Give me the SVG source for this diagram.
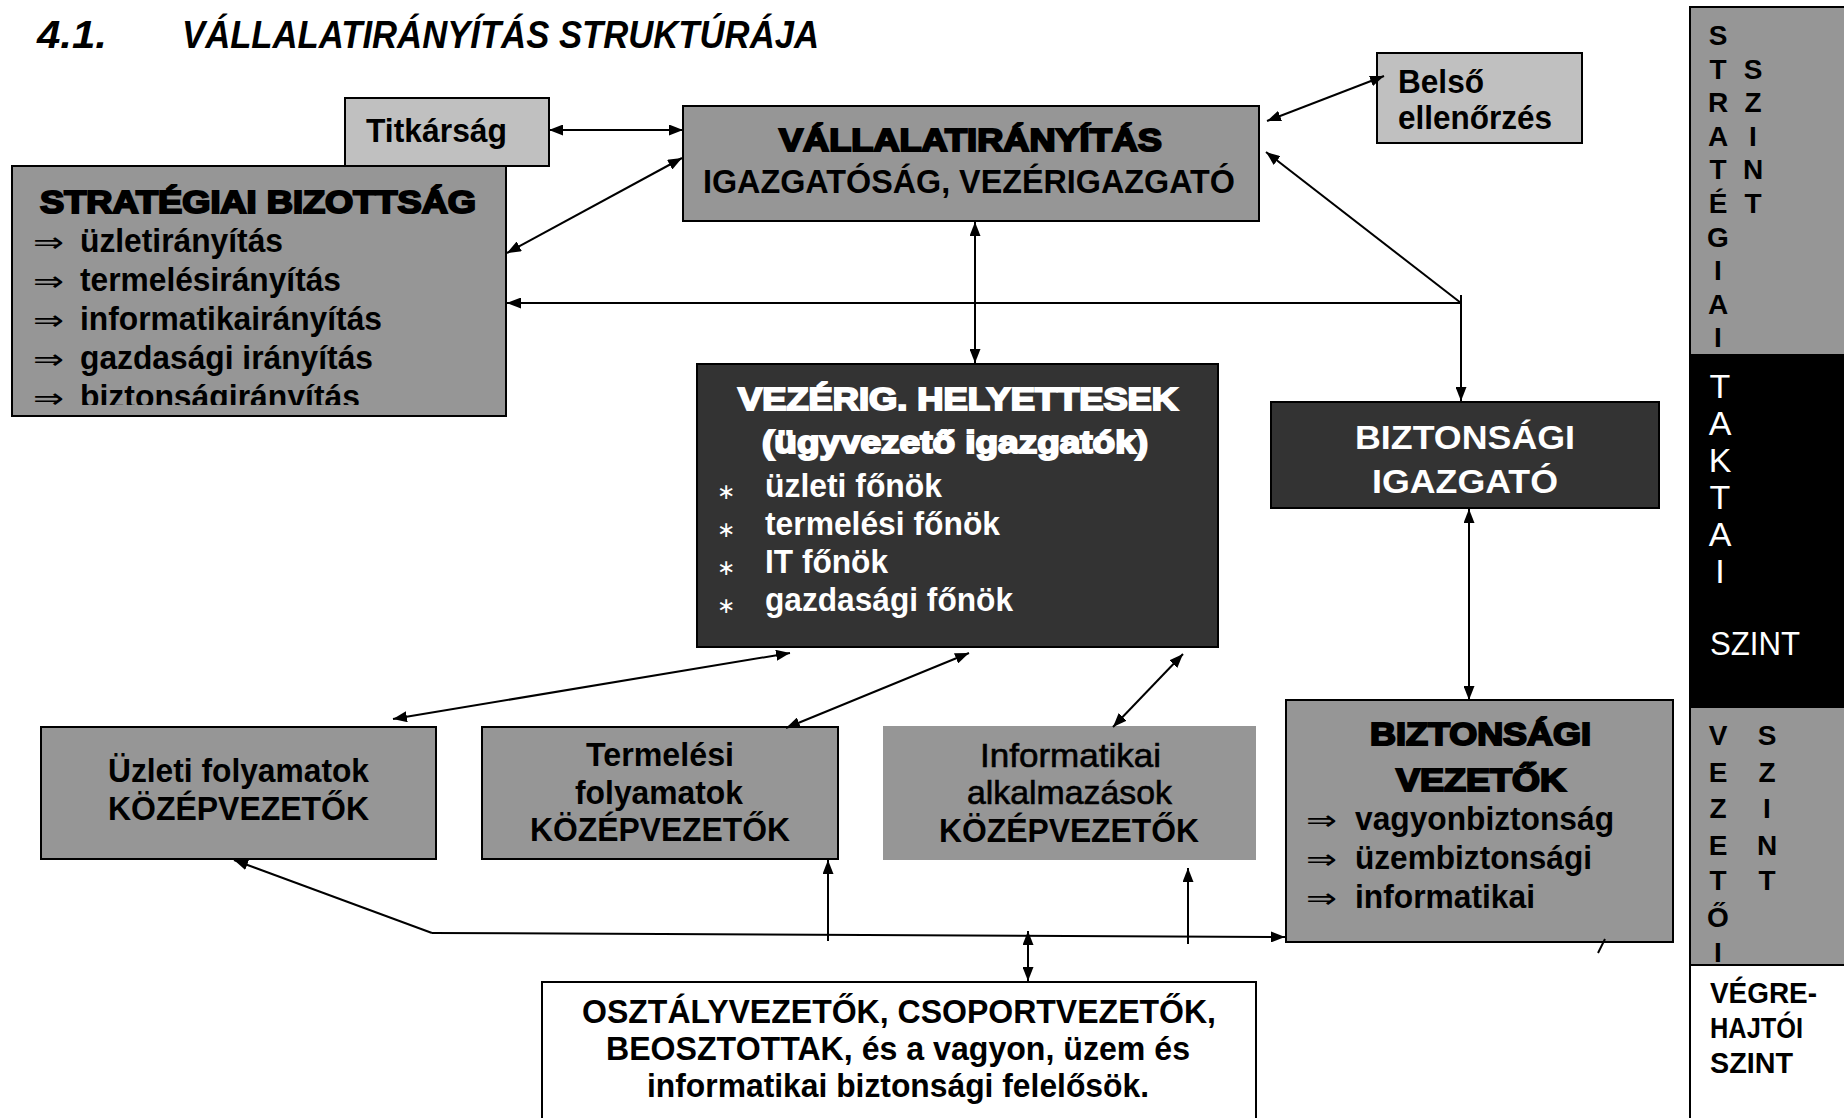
<svg xmlns="http://www.w3.org/2000/svg" width="1844" height="1118" viewBox="0 0 1844 1118">
<style>
.t{font-family:"Liberation Sans",Arial,sans-serif;font-weight:bold;font-size:33px;fill:#000}
.n{font-weight:normal;stroke:#000;stroke-width:0.6px}
.w{fill:#fff}
.ti{font-size:38px;font-style:italic}
.hv{font-size:31px;stroke:#000;stroke-width:2px}
.hvw{font-size:31px;fill:#fff;stroke:#fff;stroke-width:2px}
.sym{font-family:"DejaVu Sans",sans-serif;font-weight:normal;font-size:28px}
.ast{font-family:"DejaVu Sans",sans-serif;font-weight:normal;font-size:22px;fill:#fff}
.col{font-family:"Liberation Sans",Arial,sans-serif;font-weight:bold;font-size:28px;text-anchor:middle}
.cols{font-family:"Liberation Sans",Arial,sans-serif;font-weight:bold;font-size:29px}
.colr{font-family:"Liberation Sans",Arial,sans-serif;font-weight:normal;font-size:34px;fill:#fff;text-anchor:middle}
.colrs{font-family:"Liberation Sans",Arial,sans-serif;font-weight:normal;font-size:34px;fill:#fff}
.g{fill:#969696;stroke:#000;stroke-width:2}
.lg{fill:#c0c0c0;stroke:#000;stroke-width:2}
.dk{fill:#333;stroke:#000;stroke-width:2}
.c line{stroke:#000;stroke-width:2;fill:none}
</style>
<defs>
<marker id="ah" viewBox="0 0 14 11" refX="14" refY="5.5" markerWidth="14" markerHeight="11" markerUnits="userSpaceOnUse" orient="auto-start-reverse"><path d="M0,0 L14,5.5 L0,11 z" fill="#000"/></marker>
<clipPath id="clipS"><rect x="12" y="166" width="494" height="239"/></clipPath>
</defs>
<rect width="1844" height="1118" fill="#fff"/>

<g id="title">
<text class="t ti" x="37" y="48" textLength="70" lengthAdjust="spacingAndGlyphs">4.1.</text>
<text class="t ti" x="182" y="48" textLength="637" lengthAdjust="spacingAndGlyphs">VÁLLALATIRÁNYÍTÁS STRUKTÚRÁJA</text>
</g>

<g id="titkarsag">
<rect class="lg" x="345" y="98" width="204" height="68"/>
<text class="t" x="366" y="142" textLength="141" lengthAdjust="spacingAndGlyphs">Titkárság</text>
</g>

<g id="strategiai-bizottsag">
<rect class="g" x="12" y="166" width="494" height="250"/>
<text class="t hv" x="40" y="213" textLength="436" lengthAdjust="spacingAndGlyphs">STRATÉGIAI BIZOTTSÁG</text>
<g clip-path="url(#clipS)">
<text class="sym" x="33" y="252" textLength="31" lengthAdjust="spacingAndGlyphs">⇒</text>
<text class="t" x="80" y="252" textLength="203" lengthAdjust="spacingAndGlyphs">üzletirányítás</text>
<text class="sym" x="33" y="291" textLength="31" lengthAdjust="spacingAndGlyphs">⇒</text>
<text class="t" x="80" y="291" textLength="261" lengthAdjust="spacingAndGlyphs">termelésirányítás</text>
<text class="sym" x="33" y="330" textLength="31" lengthAdjust="spacingAndGlyphs">⇒</text>
<text class="t" x="80" y="330" textLength="302" lengthAdjust="spacingAndGlyphs">informatikairányítás</text>
<text class="sym" x="33" y="369" textLength="31" lengthAdjust="spacingAndGlyphs">⇒</text>
<text class="t" x="80" y="369" textLength="293" lengthAdjust="spacingAndGlyphs">gazdasági irányítás</text>
<text class="sym" x="33" y="408" textLength="31" lengthAdjust="spacingAndGlyphs">⇒</text>
<text class="t" x="80" y="408" textLength="280" lengthAdjust="spacingAndGlyphs">biztonságirányítás</text>
</g>
</g>

<g id="vallalatiranyitas">
<rect class="g" x="683" y="106" width="576" height="115"/>
<text class="t hv" x="779" y="151" textLength="383" lengthAdjust="spacingAndGlyphs">VÁLLALATIRÁNYÍTÁS</text>
<text class="t" x="703" y="193" textLength="532" lengthAdjust="spacingAndGlyphs">IGAZGATÓSÁG, VEZÉRIGAZGATÓ</text>
</g>

<g id="belso-ellenorzes">
<rect class="lg" x="1377" y="53" width="205" height="90"/>
<text class="t" x="1398" y="93" textLength="86" lengthAdjust="spacingAndGlyphs">Belső</text>
<text class="t" x="1398" y="129" textLength="154" lengthAdjust="spacingAndGlyphs">ellenőrzés</text>
</g>

<g id="vezerig-helyettesek">
<rect class="dk" x="697" y="364" width="521" height="283"/>
<text class="t hvw" x="738" y="410" textLength="440" lengthAdjust="spacingAndGlyphs">VEZÉRIG. HELYETTESEK</text>
<text class="t hvw" x="762" y="453" textLength="386" lengthAdjust="spacingAndGlyphs">(ügyvezető igazgatók)</text>
<text class="ast" x="717" y="499">∗</text>
<text class="t w" x="765" y="497" textLength="177" lengthAdjust="spacingAndGlyphs">üzleti főnök</text>
<text class="ast" x="717" y="537">∗</text>
<text class="t w" x="765" y="535" textLength="235" lengthAdjust="spacingAndGlyphs">termelési főnök</text>
<text class="ast" x="717" y="575">∗</text>
<text class="t w" x="765" y="573" textLength="123" lengthAdjust="spacingAndGlyphs">IT főnök</text>
<text class="ast" x="717" y="613">∗</text>
<text class="t w" x="765" y="611" textLength="248" lengthAdjust="spacingAndGlyphs">gazdasági főnök</text>
</g>

<g id="biztonsagi-igazgato">
<rect class="dk" x="1271" y="402" width="388" height="106"/>
<text class="t w" x="1355" y="449" textLength="220" lengthAdjust="spacingAndGlyphs">BIZTONSÁGI</text>
<text class="t w" x="1372" y="493" textLength="186" lengthAdjust="spacingAndGlyphs">IGAZGATÓ</text>
</g>

<g id="uzleti-kozepvezetok">
<rect class="g" x="41" y="727" width="395" height="132"/>
<text class="t" x="108" y="782" textLength="261" lengthAdjust="spacingAndGlyphs">Üzleti folyamatok</text>
<text class="t" x="108" y="820" textLength="261" lengthAdjust="spacingAndGlyphs">KÖZÉPVEZETŐK</text>
</g>

<g id="termelesi-kozepvezetok">
<rect class="g" x="482" y="727" width="356" height="132"/>
<text class="t" x="586" y="766" textLength="148" lengthAdjust="spacingAndGlyphs">Termelési</text>
<text class="t" x="575" y="804" textLength="168" lengthAdjust="spacingAndGlyphs">folyamatok</text>
<text class="t" x="530" y="841" textLength="260" lengthAdjust="spacingAndGlyphs">KÖZÉPVEZETŐK</text>
</g>

<g id="informatikai-kozepvezetok">
<rect x="883" y="726" width="373" height="134" fill="#969696"/>
<text class="t n" x="980" y="767" textLength="181" lengthAdjust="spacingAndGlyphs">Informatikai</text>
<text class="t n" x="967" y="804" textLength="205" lengthAdjust="spacingAndGlyphs">alkalmazások</text>
<text class="t" x="939" y="842" textLength="260" lengthAdjust="spacingAndGlyphs">KÖZÉPVEZETŐK</text>
</g>

<g id="biztonsagi-vezetok">
<rect class="g" x="1286" y="700" width="387" height="242"/>
<text class="t hv" x="1370" y="745" textLength="221" lengthAdjust="spacingAndGlyphs">BIZTONSÁGI</text>
<text class="t hv" x="1396" y="791" textLength="170" lengthAdjust="spacingAndGlyphs">VEZETŐK</text>
<text class="sym" x="1306" y="830" textLength="31" lengthAdjust="spacingAndGlyphs">⇒</text>
<text class="t" x="1355" y="830" textLength="259" lengthAdjust="spacingAndGlyphs">vagyonbiztonság</text>
<text class="sym" x="1306" y="869" textLength="31" lengthAdjust="spacingAndGlyphs">⇒</text>
<text class="t" x="1355" y="869" textLength="237" lengthAdjust="spacingAndGlyphs">üzembiztonsági</text>
<text class="sym" x="1306" y="908" textLength="31" lengthAdjust="spacingAndGlyphs">⇒</text>
<text class="t" x="1355" y="908" textLength="180" lengthAdjust="spacingAndGlyphs">informatikai</text>
</g>

<g id="vegrehajtok">
<rect x="542" y="982" width="714" height="150" fill="#fff" stroke="#000" stroke-width="2"/>
<text class="t" x="582" y="1023" textLength="634" lengthAdjust="spacingAndGlyphs">OSZTÁLYVEZETŐK, CSOPORTVEZETŐK,</text>
<text class="t" x="606" y="1060" textLength="584" lengthAdjust="spacingAndGlyphs">BEOSZTOTTAK, és a vagyon, üzem és</text>
<text class="t" x="647" y="1097" textLength="502" lengthAdjust="spacingAndGlyphs">informatikai biztonsági felelősök.</text>
</g>

<g id="szintek">
<rect x="1690" y="7" width="170" height="348" fill="#969696" stroke="#000" stroke-width="2"/>
<rect x="1690" y="355" width="170" height="352" fill="#000" stroke="#000" stroke-width="2"/>
<rect x="1690" y="707" width="170" height="258" fill="#969696" stroke="#000" stroke-width="2"/>
<rect x="1690" y="965" width="170" height="170" fill="#fff" stroke="#000" stroke-width="2"/>
<text class="col" x="1718" y="45">S</text>
<text class="col" x="1718" y="78.6">T</text>
<text class="col" x="1718" y="112.2">R</text>
<text class="col" x="1718" y="145.8">A</text>
<text class="col" x="1718" y="179.4">T</text>
<text class="col" x="1718" y="213">É</text>
<text class="col" x="1718" y="246.6">G</text>
<text class="col" x="1718" y="280.2">I</text>
<text class="col" x="1718" y="313.8">A</text>
<text class="col" x="1718" y="347.4">I</text>
<text class="col" x="1753" y="78.6">S</text>
<text class="col" x="1753" y="112.2">Z</text>
<text class="col" x="1753" y="145.8">I</text>
<text class="col" x="1753" y="179.4">N</text>
<text class="col" x="1753" y="213">T</text>
<text class="colr" x="1720" y="398">T</text>
<text class="colr" x="1720" y="435">A</text>
<text class="colr" x="1720" y="472">K</text>
<text class="colr" x="1720" y="509">T</text>
<text class="colr" x="1720" y="546">A</text>
<text class="colr" x="1720" y="583">I</text>
<text class="colrs" x="1710" y="655" textLength="90" lengthAdjust="spacingAndGlyphs">SZINT</text>
<text class="col" x="1718" y="745">V</text>
<text class="col" x="1718" y="782">E</text>
<text class="col" x="1718" y="818">Z</text>
<text class="col" x="1718" y="855">E</text>
<text class="col" x="1718" y="890">T</text>
<text class="col" x="1718" y="927">Ő</text>
<text class="col" x="1718" y="962">I</text>
<text class="col" x="1767" y="745">S</text>
<text class="col" x="1767" y="782">Z</text>
<text class="col" x="1767" y="818">I</text>
<text class="col" x="1767" y="855">N</text>
<text class="col" x="1767" y="890">T</text>
<text class="cols" x="1710" y="1003" textLength="107" lengthAdjust="spacingAndGlyphs">VÉGRE-</text>
<text class="cols" x="1710" y="1038" textLength="93" lengthAdjust="spacingAndGlyphs">HAJTÓI</text>
<text class="cols" x="1710" y="1073" textLength="83" lengthAdjust="spacingAndGlyphs">SZINT</text>
</g>

<g id="connectors" class="c">
<line x1="549" y1="130" x2="683" y2="130" marker-start="url(#ah)" marker-end="url(#ah)"/>
<line x1="507" y1="253" x2="682" y2="158" marker-start="url(#ah)" marker-end="url(#ah)"/>
<line x1="1461" y1="303" x2="507" y2="303" marker-end="url(#ah)"/>
<line x1="1461" y1="303" x2="1266" y2="152" marker-end="url(#ah)"/>
<line x1="1461" y1="295" x2="1461" y2="401" marker-end="url(#ah)"/>
<line x1="1267" y1="121" x2="1384" y2="76" marker-start="url(#ah)" marker-end="url(#ah)"/>
<line x1="975" y1="222" x2="975" y2="363" marker-start="url(#ah)" marker-end="url(#ah)"/>
<line x1="1469" y1="509" x2="1469" y2="700" marker-start="url(#ah)" marker-end="url(#ah)"/>
<line x1="790" y1="653" x2="393" y2="719" marker-start="url(#ah)" marker-end="url(#ah)"/>
<line x1="969" y1="653" x2="786" y2="728" marker-start="url(#ah)" marker-end="url(#ah)"/>
<line x1="1183" y1="654" x2="1113" y2="727" marker-start="url(#ah)" marker-end="url(#ah)"/>
<line x1="432" y1="933" x2="1285" y2="937" stroke-width="2.5" marker-end="url(#ah)"/>
<line x1="432" y1="933" x2="234" y2="860" marker-end="url(#ah)"/>
<line x1="828" y1="941" x2="828" y2="860" marker-end="url(#ah)"/>
<line x1="1188" y1="944" x2="1188" y2="868" marker-end="url(#ah)"/>
<line x1="1028" y1="931" x2="1028" y2="981" marker-start="url(#ah)" marker-end="url(#ah)"/>
<line x1="1605" y1="939" x2="1598" y2="953" stroke-width="1.5"/>
</g>
</svg>
